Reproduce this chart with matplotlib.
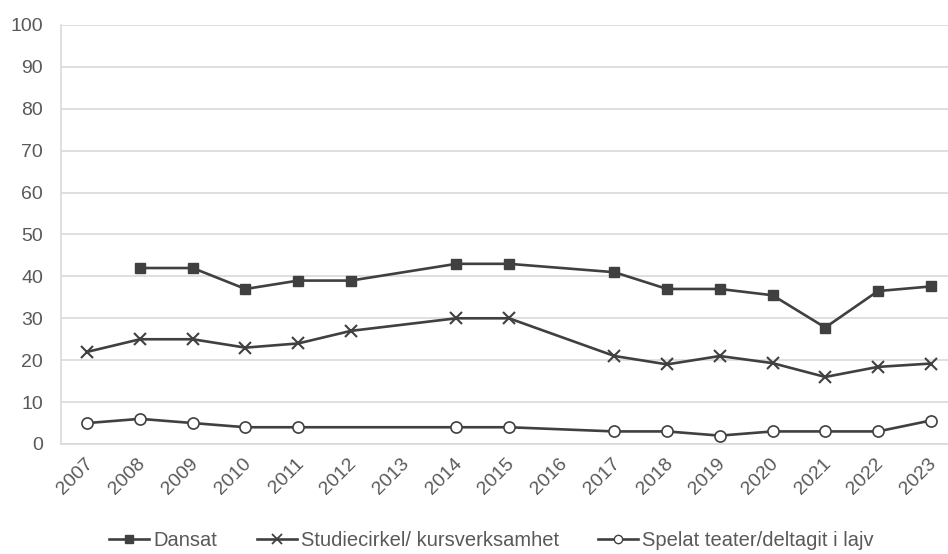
import matplotlib
matplotlib.use("Agg")
import matplotlib.pyplot as plt
from matplotlib.lines import Line2D
from matplotlib.transforms import ScaledTranslation

years = ["2007", "2008", "2009", "2010", "2011", "2012", "2013", "2014", "2015",
         "2016", "2017", "2018", "2019", "2020", "2021", "2022", "2023"]
dansat = [None, 42, 42, 37, 39, 39, None, 43, 43, None, 41, 37, 37, 35.5, 27.8, 36.5, 37.6]
studie = [22, 25, 25, 23, 24, 27, None, 30, 30, None, 21, 19, 21, 19.3, 16, 18.4, 19.2]
spelat = [5, 6, 5, 4, 4, None, None, 4, 4, None, 3, 3, 2, 3, 3, 3, 5.6]
labels = ["Dansat", "Studiecirkel/ kursverksamhet", "Spelat teater/deltagit i lajv"]
yticks = [0, 10, 20, 30, 40, 50, 60, 70, 80, 90, 100]

plt.rcParams['font.family'] = ['Liberation Sans', 'DejaVu Sans']
W, H = 948, 554
fig = plt.figure(figsize=(W / 100, H / 100), dpi=100)
left, right, top, bottom = 61, 957, 25, 444
ax = fig.add_axes([left / W, 1 - bottom / H, (right - left) / W, (bottom - top) / H])

lc = '#404040'
tc = '#595959'

def series(vals):
    xs = [i for i, v in enumerate(vals) if v is not None]
    ys = [v for v in vals if v is not None]
    return xs, ys

styles = [
    dict(marker='s', ms=7.5, mfc=lc, mec=lc),
    dict(marker='x', ms=8, mew=1.5, mec=lc),
    dict(marker='o', ms=8, mfc='white', mec=lc, mew=1.2),
]
legend_styles = [
    dict(marker='s', ms=5.5, mfc=lc, mec=lc),
    dict(marker='x', ms=6.5, mew=1.3, mec=lc),
    dict(marker='o', ms=6, mfc='white', mec=lc, mew=1.0),
]
for vals, st, lab in zip([dansat, studie, spelat], styles, labels):
    x, y = series(vals)
    ax.plot(x, y, color=lc, lw=1.9, label=lab, zorder=3, **st)

ax.set_xlim(-0.5, len(years) - 0.5)
ax.set_ylim(0, 100)
ax.set_yticks(yticks)
ax.set_xticks(range(len(years)))
ax.set_xticklabels(years, rotation=45, ha='right', rotation_mode='anchor')
ax.grid(axis='y', color='#d9d9d9', lw=1.2)
ax.set_axisbelow(True)
for s in ['top', 'right']:
    ax.spines[s].set_visible(False)
for s in ['left', 'bottom']:
    ax.spines[s].set_color('#d9d9d9')
    ax.spines[s].set_linewidth(1.2)
ax.tick_params(axis='both', colors=tc, labelsize=14, length=0)
ax.tick_params(axis='y', pad=13)
ax.tick_params(axis='x', pad=5)
off = ScaledTranslation(-3 / 100, -4 / 100, fig.dpi_scale_trans)
for lbl in ax.get_xticklabels():
    lbl.set_transform(lbl.get_transform() + off)

legend_x = [109, 257, 598]
for lab, st, lx in zip(labels, legend_styles, legend_x):
    h = Line2D([], [], color=lc, lw=1.9, **st)
    fig.legend(handles=[h], labels=[lab], loc='center left',
               bbox_to_anchor=(lx / W, 1 - 541 / H), frameon=False,
               fontsize=14.5, labelcolor=tc, handlelength=2.0, handletextpad=0.2,
               borderpad=0, borderaxespad=0)

fig.savefig("out.png", dpi=100)
